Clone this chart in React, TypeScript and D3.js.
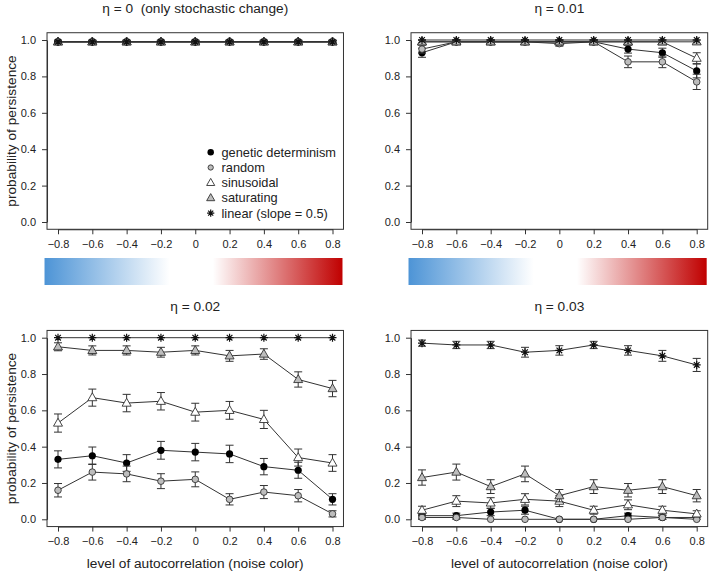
import { useRef, useEffect } from "react";
import * as d3 from "d3";

// autocorrelation levels on the x axis
const xLevels = [-0.8, -0.6, -0.4, -0.2, 0, 0.2, 0.4, 0.6, 0.8];
const xTickLabels = ["\u22120.8", "\u22120.6", "\u22120.4", "\u22120.2", "0", "0.2", "0.4", "0.6", "0.8"];
const yTicks = [0, 0.2, 0.4, 0.6, 0.8, 1.0];
const yTickLabels = ["0.0", "0.2", "0.4", "0.6", "0.8", "1.0"];

const seriesNames = ["genetic determinism", "random", "sinusoidal", "saturating", "linear (slope = 0.5)"];
const seriesKinds = ["dot", "greyDot", "triangle", "greyTriangle", "star"];

const panelTitles = ["\u03b7 = 0  (only stochastic change)", "\u03b7 = 0.01", "\u03b7 = 0.02", "\u03b7 = 0.03"];

// eta = 0
const eta0Genetic = [0.99, 0.99, 0.99, 0.99, 0.99, 0.99, 0.99, 0.99, 0.99];
const eta0Random = [0.99, 0.99, 0.99, 0.99, 0.99, 0.99, 0.99, 0.99, 0.99];
const eta0Sinusoidal = [0.99, 0.99, 0.99, 0.99, 0.99, 0.99, 0.99, 0.99, 0.99];
const eta0Saturating = [0.99, 0.99, 0.99, 0.99, 0.99, 0.99, 0.99, 0.99, 0.99];
const eta0Linear = [0.99, 0.99, 0.99, 0.99, 0.99, 0.99, 0.99, 0.99, 0.99];
const eta0Err = [0.008, 0.008, 0.008, 0.008, 0.008, 0.008, 0.008, 0.008, 0.008];

// eta = 0.01
const eta1Genetic = [0.93, 0.99, 0.99, 0.99, 0.99, 0.99, 0.95, 0.93, 0.83];
const eta1GeneticErr = [0.025, 0.01, 0.01, 0.01, 0.01, 0.01, 0.022, 0.025, 0.038];
const eta1Random = [0.95, 0.99, 0.99, 0.99, 0.98, 0.99, 0.88, 0.88, 0.77];
const eta1RandomErr = [0.022, 0.01, 0.01, 0.01, 0.014, 0.01, 0.032, 0.032, 0.042];
const eta1Sinusoidal = [0.99, 0.99, 0.99, 0.99, 0.99, 0.99, 0.99, 0.99, 0.9];
const eta1SinusoidalErr = [0.01, 0.01, 0.01, 0.01, 0.01, 0.01, 0.01, 0.01, 0.03];
const eta1Saturating = [0.99, 0.99, 0.99, 0.99, 0.99, 0.99, 0.99, 0.99, 0.99];
const eta1SaturatingErr = [0.01, 0.01, 0.01, 0.01, 0.01, 0.01, 0.01, 0.01, 0.01];
const eta1Linear = [1.0, 1.0, 1.0, 1.0, 1.0, 1.0, 1.0, 1.0, 1.0];
const eta1LinearErr = [0, 0, 0, 0, 0, 0, 0, 0, 0];

// eta = 0.02
const eta2Genetic = [0.33, 0.35, 0.31, 0.38, 0.37, 0.36, 0.29, 0.27, 0.11];
const eta2GeneticErr = [0.047, 0.048, 0.046, 0.049, 0.048, 0.048, 0.045, 0.044, 0.031];
const eta2Random = [0.16, 0.26, 0.25, 0.21, 0.22, 0.11, 0.15, 0.13, 0.03];
const eta2RandomErr = [0.037, 0.044, 0.043, 0.041, 0.041, 0.031, 0.036, 0.034, 0.017];
const eta2Sinusoidal = [0.53, 0.67, 0.64, 0.65, 0.59, 0.6, 0.55, 0.34, 0.31];
const eta2SinusoidalErr = [0.05, 0.047, 0.048, 0.048, 0.049, 0.049, 0.05, 0.047, 0.046];
const eta2Saturating = [0.95, 0.93, 0.93, 0.92, 0.93, 0.9, 0.91, 0.77, 0.72];
const eta2SaturatingErr = [0.022, 0.025, 0.025, 0.027, 0.025, 0.03, 0.029, 0.042, 0.045];
const eta2Linear = [1.0, 1.0, 1.0, 1.0, 1.0, 1.0, 1.0, 1.0, 1.0];
const eta2LinearErr = [0, 0, 0, 0, 0, 0, 0, 0, 0];

// eta = 0.03
const eta3Genetic = [0.02, 0.02, 0.04, 0.05, 0.0, 0.0, 0.02, 0.01, 0.01];
const eta3GeneticErr = [0.014, 0.014, 0.02, 0.022, 0, 0, 0.014, 0.01, 0.01];
const eta3Random = [0.01, 0.01, 0.0, 0.0, 0.0, 0.0, 0.0, 0.01, 0.0];
const eta3RandomErr = [0.01, 0.01, 0, 0, 0, 0, 0, 0.01, 0];
const eta3Sinusoidal = [0.05, 0.1, 0.09, 0.11, 0.1, 0.05, 0.08, 0.05, 0.03];
const eta3SinusoidalErr = [0.022, 0.03, 0.029, 0.031, 0.03, 0.022, 0.027, 0.022, 0.017];
const eta3Saturating = [0.23, 0.26, 0.18, 0.25, 0.13, 0.18, 0.16, 0.18, 0.13];
const eta3SaturatingErr = [0.042, 0.044, 0.038, 0.043, 0.034, 0.038, 0.037, 0.038, 0.034];
const eta3Linear = [0.97, 0.96, 0.96, 0.92, 0.93, 0.96, 0.93, 0.9, 0.85];
const eta3LinearErr = [0.017, 0.02, 0.02, 0.027, 0.026, 0.02, 0.026, 0.03, 0.036];

const panelValues = [
  [eta0Genetic, eta0Random, eta0Sinusoidal, eta0Saturating, eta0Linear],
  [eta1Genetic, eta1Random, eta1Sinusoidal, eta1Saturating, eta1Linear],
  [eta2Genetic, eta2Random, eta2Sinusoidal, eta2Saturating, eta2Linear],
  [eta3Genetic, eta3Random, eta3Sinusoidal, eta3Saturating, eta3Linear],
];
const panelErrors = [
  [eta0Err, eta0Err, eta0Err, eta0Err, eta0Err],
  [eta1GeneticErr, eta1RandomErr, eta1SinusoidalErr, eta1SaturatingErr, eta1LinearErr],
  [eta2GeneticErr, eta2RandomErr, eta2SinusoidalErr, eta2SaturatingErr, eta2LinearErr],
  [eta3GeneticErr, eta3RandomErr, eta3SinusoidalErr, eta3SaturatingErr, eta3LinearErr],
];

const FONT = "'Liberation Sans', Arial, Helvetica, sans-serif";
const INK = "#222";
const LINE = "#333";
const GREY = "#bdbdbd";

function drawMarker(
  g: d3.Selection<SVGGElement, unknown, null, undefined>,
  kind: string,
  cx: number,
  cy: number,
  s = 1,
) {
  if (kind === "dot") {
    g.append("circle").attr("cx", cx).attr("cy", cy).attr("r", 3.6 * s).attr("fill", "#000");
  } else if (kind === "greyDot") {
    g.append("circle")
      .attr("cx", cx)
      .attr("cy", cy)
      .attr("r", 3.3 * s)
      .attr("fill", GREY)
      .attr("stroke", "#333")
      .attr("stroke-width", 0.9);
  } else if (kind === "triangle" || kind === "greyTriangle") {
    const hw = 4.5 * s;
    const top = -4.8 * s;
    const bot = 3.1 * s;
    g.append("path")
      .attr("d", `M${cx},${cy + top}L${cx + hw},${cy + bot}L${cx - hw},${cy + bot}Z`)
      .attr("fill", kind === "triangle" ? "#fff" : GREY)
      .attr("stroke", "#333")
      .attr("stroke-width", 0.9);
  } else {
    const r = 4 * s;
    const d = r * Math.SQRT1_2;
    g.append("path")
      .attr(
        "d",
        `M${cx - r},${cy}L${cx + r},${cy}M${cx},${cy - r}L${cx},${cy + r}` +
          `M${cx - d},${cy - d}L${cx + d},${cy + d}M${cx - d},${cy + d}L${cx + d},${cy - d}`,
      )
      .attr("stroke", "#111")
      .attr("stroke-width", 1.2);
  }
}

export default function App() {
  const svgRef = useRef<SVGSVGElement>(null);

  useEffect(() => {
    if (!svgRef.current) return;
    const svg = d3.select(svgRef.current);
    svg.selectAll("*").remove();

    // colour bar gradient
    const defs = svg.append("defs");
    const grad = defs
      .append("linearGradient")
      .attr("id", "noiseGrad")
      .attr("x1", "0%")
      .attr("x2", "100%");
    grad.append("stop").attr("offset", "0%").attr("stop-color", "#4d94d6");
    grad.append("stop").attr("offset", "42%").attr("stop-color", "#ffffff");
    grad.append("stop").attr("offset", "56.5%").attr("stop-color", "#ffffff");
    grad.append("stop").attr("offset", "100%").attr("stop-color", "#c00000");

    const colRange = [
      [58, 332.5],
      [422, 696.7],
    ];
    const rowRange = [
      [222, 40],
      [519.3, 337.7],
    ];

    panelValues.forEach((values, p) => {
      const col = p % 2;
      const row = Math.floor(p / 2);
      const x = d3.scaleLinear().domain([-0.8, 0.8]).range(colRange[col]);
      const y = d3.scaleLinear().domain([0, 1]).range(rowRange[row]);
      const bx0 = x(-0.864);
      const bx1 = x(0.864);
      const by0 = y(1.04);
      const by1 = y(-0.04);
      const g = svg.append("g");

      // title
      g.append("text")
        .attr("x", (bx0 + bx1) / 2)
        .attr("y", by0 - 19.5)
        .attr("text-anchor", "middle")
        .attr("fill", INK)
        .style("font-family", FONT)
        .style("font-size", "13.7px")
        .style("white-space", "pre")
        .text(panelTitles[p]);

      // axes
      const yAxis = g
        .append("g")
        .attr("transform", `translate(${bx0},0)`)
        .call(
          d3
            .axisLeft(y)
            .tickValues(yTicks)
            .tickFormat((_, i) => yTickLabels[i])
            .tickSize(5)
            .tickSizeOuter(0)
            .tickPadding(6),
        );
      const xAxis = g
        .append("g")
        .attr("transform", `translate(0,${by1})`)
        .call(
          d3
            .axisBottom(x)
            .tickValues(xLevels)
            .tickFormat((_, i) => xTickLabels[i])
            .tickSize(5)
            .tickSizeOuter(0)
            .tickPadding(6),
        );
      [yAxis, xAxis].forEach((a) => {
        a.selectAll(".domain, .tick line").attr("stroke", LINE);
        a.selectAll("text")
          .attr("fill", INK)
          .style("font-family", FONT)
          .style("font-size", "11px");
      });

      // box
      g.append("rect")
        .attr("x", bx0)
        .attr("y", by0)
        .attr("width", bx1 - bx0)
        .attr("height", by1 - by0)
        .attr("fill", "none")
        .attr("stroke", LINE)
        .attr("stroke-width", 1);

      if (col === 0) {
        g.append("text")
          .attr("transform", `translate(11,${(by0 + by1) / 2}) rotate(-90)`)
          .attr("text-anchor", "middle")
          .attr("dominant-baseline", "central")
          .attr("fill", INK)
          .style("font-family", FONT)
          .style("font-size", "13.7px")
          .text("probability of persistence");
      }

      if (row === 0) {
        g.append("rect")
          .attr("x", bx0 - 2.5)
          .attr("y", 258)
          .attr("width", bx1 - bx0 + 1.5)
          .attr("height", 27)
          .attr("fill", "url(#noiseGrad)");
      } else {
        g.append("text")
          .attr("x", (bx0 + bx1) / 2)
          .attr("y", 568)
          .attr("text-anchor", "middle")
          .attr("fill", INK)
          .style("font-family", FONT)
          .style("font-size", "13.7px")
          .text("level of autocorrelation (noise color)");
      }

      // series: error bars, connecting line, markers
      const line = d3
        .line<number>()
        .x((_, i) => x(xLevels[i]))
        .y((d) => y(d));

      values.forEach((vals, s) => {
        const errs = panelErrors[p][s];
        const sg = g.append("g");
        vals.forEach((v, i) => {
          const e = errs[i];
          if (e <= 0) return;
          const cx = x(xLevels[i]);
          const yt = y(v + e);
          const yb = y(v - e);
          sg.append("path")
            .attr("d", `M${cx},${yt}L${cx},${yb}M${cx - 4},${yt}L${cx + 4},${yt}M${cx - 4},${yb}L${cx + 4},${yb}`)
            .attr("stroke", LINE)
            .attr("stroke-width", 1)
            .attr("fill", "none");
        });
        sg.append("path")
          .attr("d", line(vals))
          .attr("fill", "none")
          .attr("stroke", LINE)
          .attr("stroke-width", 1);
        vals.forEach((v, i) => drawMarker(sg, seriesKinds[s], x(xLevels[i]), y(v)));
      });

      // legend
      if (p === 0) {
        const lg = g.append("g");
        seriesNames.forEach((name, i) => {
          const ly = 152.3 + i * 15.2;
          drawMarker(lg, seriesKinds[i], 210.7, ly, i === 1 ? 0.8 : 0.9);
          lg.append("text")
            .attr("x", 221.5)
            .attr("y", ly)
            .attr("dominant-baseline", "central")
            .attr("fill", INK)
            .style("font-family", FONT)
            .style("font-size", "12.8px")
            .text(name);
        });
      }
    });
  }, []);

  return (
    <svg
      ref={svgRef}
      width={709}
      height={573}
      style={{ position: "absolute", left: 0, top: 0, background: "#fff" }}
    />
  );
}
